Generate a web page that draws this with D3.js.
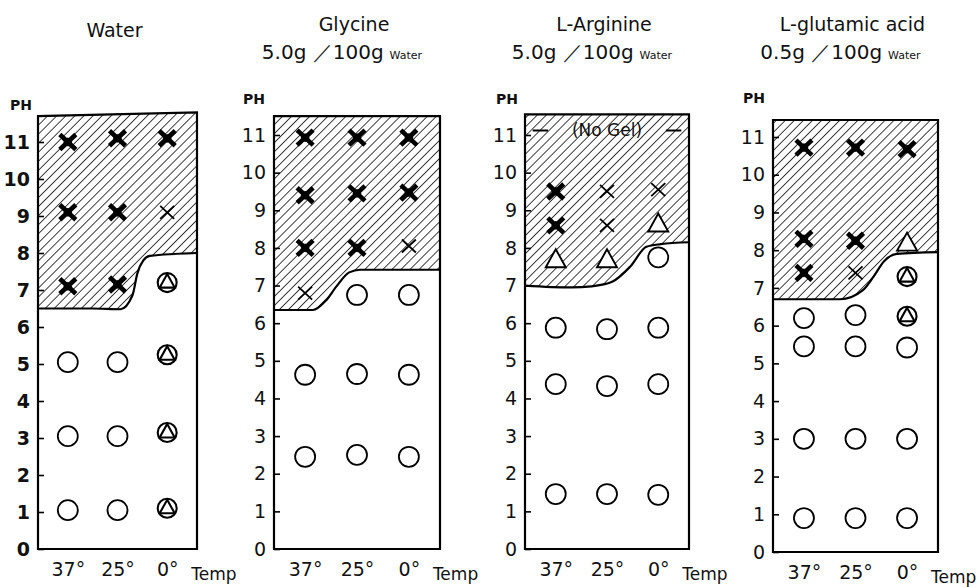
<!DOCTYPE html>
<html>
<head>
<meta charset="utf-8">
<script src="https://cdn.jsdelivr.net/npm/d3@7"></script>
<style>
  body { margin: 0; background: #fff; }
  text { font-family: "DejaVu Sans", sans-serif; fill: #111; }
</style>
</head>
<body>
<svg width="978" height="587"></svg>
<script>
// gel formation vs pH and temperature
var temps = ["37°", "25°", "0°"];
var phTicks = [0, 1, 2, 3, 4, 5, 6, 7, 8, 9, 10, 11];
var panelNames = ["Water", "Glycine", "L-Arginine", "L-glutamic acid"];
var concentrations = [null, "5.0g ／100g", "5.0g ／100g", "0.5g ／100g"];

// top of hatched box (pH at left edge, right edge)
var boxTop = [[11.7, 11.8], [11.5, 11.5], [11.55, 11.55], [11.45, 11.45]];

// lower edge of the gel zone: [column position, pH]
var waterEdge = [[-0.6, 6.5], [0.5, 6.5], [1.06, 6.48], [1.3, 6.85], [1.4, 7.45], [1.52, 7.8], [1.65, 7.92], [2.6, 8.0]];
var glycineEdge = [[-0.6, 6.35], [0.15, 6.35], [0.4, 6.6], [0.6, 6.97], [0.85, 7.35], [1.06, 7.42], [2.6, 7.42]];
var arginineEdge = [[-0.6, 7.0], [0.3, 6.95], [0.7, 6.98], [1.1, 7.1], [1.45, 7.5], [1.77, 8.03], [2.05, 8.1], [2.6, 8.15]];
var glutamicEdge = [[-0.6, 6.7], [0.7, 6.7], [1.15, 6.95], [1.35, 7.3], [1.55, 7.7], [1.8, 7.9], [2.6, 7.95]];

// points: [temp index, pH, kind]
var waterPts = [
  [0, 11.0, "strong"], [0, 9.1, "strong"], [0, 7.1, "strong"], [0, 5.05, "circle"], [0, 3.05, "circle"], [0, 1.05, "circle"],
  [1, 11.1, "strong"], [1, 9.1, "strong"], [1, 7.15, "strong"], [1, 5.05, "circle"], [1, 3.05, "circle"], [1, 1.05, "circle"],
  [2, 11.1, "strong"], [2, 9.1, "weak"], [2, 7.2, "both"], [2, 5.25, "both"], [2, 3.15, "both"], [2, 1.1, "both"]
];
var glycinePts = [
  [0, 10.93, "strong"], [0, 9.4, "strong"], [0, 8.0, "strong"], [0, 6.8, "weak"], [0, 4.63, "circle"], [0, 2.45, "circle"],
  [1, 10.93, "strong"], [1, 9.45, "strong"], [1, 8.0, "strong"], [1, 6.75, "circle"], [1, 4.65, "circle"], [1, 2.5, "circle"],
  [2, 10.93, "strong"], [2, 9.47, "strong"], [2, 8.05, "weak"], [2, 6.75, "circle"], [2, 4.63, "circle"], [2, 2.45, "circle"]
];
var argininePts = [
  [0, 9.5, "strong"], [0, 8.6, "strong"], [0, 7.7, "triangle"], [0, 5.88, "circle"], [0, 4.38, "circle"], [0, 1.46, "circle"],
  [1, 9.5, "weak"], [1, 8.6, "weak"], [1, 7.7, "triangle"], [1, 5.84, "circle"], [1, 4.33, "circle"], [1, 1.46, "circle"],
  [2, 9.55, "weak"], [2, 8.65, "triangle"], [2, 7.75, "circle"], [2, 5.88, "circle"], [2, 4.38, "circle"], [2, 1.44, "circle"]
];
var glutamicPts = [
  [0, 10.72, "strong"], [0, 8.3, "strong"], [0, 7.4, "strong"], [0, 6.2, "circle"], [0, 5.45, "circle"], [0, 3.0, "circle"], [0, 0.9, "circle"],
  [1, 10.72, "strong"], [1, 8.25, "strong"], [1, 7.4, "weak"], [1, 6.28, "circle"], [1, 5.45, "circle"], [1, 3.0, "circle"], [1, 0.9, "circle"],
  [2, 10.68, "strong"], [2, 8.2, "triangle"], [2, 7.3, "both"], [2, 6.25, "both"], [2, 5.42, "circle"], [2, 3.0, "circle"], [2, 0.9, "circle"]
];

var edges = [waterEdge, glycineEdge, arginineEdge, glutamicEdge];
var points = [waterPts, glycinePts, argininePts, glutamicPts];

// layout of the four boxes
var lefts = [38, 274, 525, 773];
var rights = [197, 440, 689, 938];
var bottoms = [549, 549, 549, 552];
var tops11 = [142, 135, 135, 137]; // y of pH 11
var phLabelX = [10, 243, 496, 743];
var phLabelY = [110, 104, 104, 103];

var svg = d3.select("svg");

var defs = svg.append("defs");
defs.append("pattern")
  .attr("id", "hatch")
  .attr("patternUnits", "userSpaceOnUse")
  .attr("width", 6.4).attr("height", 6.4)
  .attr("patternTransform", "rotate(45)")
  .append("line")
  .attr("x1", 0).attr("y1", -1).attr("x2", 0).attr("y2", 7.4)
  .attr("stroke", "#000").attr("stroke-width", 1.5);

function drawMark(g, x, y, kind) {
  var m = g.append("g").attr("transform", "translate(" + x + "," + y + ")");
  if (kind == "strong") {
    m.append("path").attr("d", "M-8,-7.5L8,7.5M-8,7.5L8,-7.5")
      .attr("stroke", "#000").attr("stroke-width", 4.6).attr("fill", "none");
    m.append("path").attr("d", "M-4,-1L4,1M-1,4L1,-4")
      .attr("stroke", "#000").attr("stroke-width", 3.4).attr("fill", "none");
  } else if (kind == "weak") {
    m.append("path").attr("d", "M-7,-6.5L7,6.5M-7,6.5L7,-6.5")
      .attr("stroke", "#000").attr("stroke-width", 1.8).attr("fill", "none");
  } else if (kind == "circle") {
    m.append("circle").attr("r", 10)
      .attr("fill", "#fff").attr("stroke", "#000").attr("stroke-width", 1.8);
  } else if (kind == "triangle") {
    m.append("path").attr("d", "M0,-10L10,8L-10,8Z")
      .attr("fill", "#fff").attr("stroke", "#000").attr("stroke-width", 1.9);
  } else if (kind == "both") {
    m.append("circle").attr("r", 9.5)
      .attr("fill", "#fff").attr("stroke", "#000").attr("stroke-width", 2.1);
    m.append("path").attr("d", "M0,-8.5L7.5,5L-7.5,5Z")
      .attr("fill", "none").attr("stroke", "#000").attr("stroke-width", 2.1);
  }
}

panelNames.forEach(function(name, i) {
  var x = d3.scaleLinear().domain([-0.6, 2.6]).range([lefts[i], rights[i]]);
  var y = d3.scaleLinear().domain([0, 11]).range([bottoms[i], tops11[i]]);
  var g = svg.append("g");
  var top = boxTop[i];
  var topAt = d3.scaleLinear().domain([-0.6, 2.6]).range(top);

  // hatched gel zone
  var area = d3.area()
    .curve(d3.curveMonotoneX)
    .x(function(d) { return x(d[0]); })
    .y0(function(d) { return y(d[1]); })
    .y1(function(d) { return y(topAt(d[0])); });
  g.append("path")
    .datum(edges[i])
    .attr("fill", "url(#hatch)")
    .attr("d", area);

  var line = d3.line()
    .curve(d3.curveMonotoneX)
    .x(function(d) { return x(d[0]); })
    .y(function(d) { return y(d[1]); });
  g.append("path")
    .datum(edges[i])
    .attr("fill", "none").attr("stroke", "#000").attr("stroke-width", 2.2)
    .attr("d", line);

  // box
  g.append("path")
    .datum([[-0.6, 0], [-0.6, top[0]], [2.6, top[1]], [2.6, 0]])
    .attr("fill", "none").attr("stroke", "#000").attr("stroke-width", 2.2)
    .attr("d", d3.line().x(function(d) { return x(d[0]); }).y(function(d) { return y(d[1]); }).curve(d3.curveLinearClosed));

  // pH axis
  var ax = g.append("g")
    .attr("transform", "translate(" + lefts[i] + ",0)")
    .call(d3.axisLeft(y).tickValues(phTicks).tickFormat(d3.format("d")).tickSizeInner(-6).tickSizeOuter(0).tickPadding(8));
  ax.select(".domain").remove();
  ax.selectAll("line").attr("stroke", "#000").attr("stroke-width", 1.6);
  ax.selectAll("text")
    .attr("font-size", 19)
    .attr("font-weight", i == 0 ? "bold" : "normal")
    .attr("fill", "#111")
    .attr("font-family", "DejaVu Sans");

  g.append("text")
    .attr("x", phLabelX[i]).attr("y", phLabelY[i])
    .attr("font-size", 14).attr("font-weight", "bold")
    .text("PH");

  // temperature axis
  var bx = g.append("g")
    .attr("transform", "translate(0," + bottoms[i] + ")")
    .call(d3.axisBottom(x).tickValues([0, 1, 2]).tickFormat(function(d) { return temps[d]; }).tickSize(0).tickPadding(14));
  bx.select(".domain").remove();
  bx.selectAll("text")
    .attr("font-size", 19)
    .attr("fill", "#111")
    .attr("font-family", "DejaVu Sans");
  g.append("text")
    .attr("x", x(2) + 24).attr("y", bottoms[i] + 31)
    .attr("font-size", 17)
    .text("Temp");

  // markers
  points[i].forEach(function(p) {
    drawMark(g, x(p[0]), y(p[1]), p[2]);
  });

  if (name == "L-Arginine") {
    var ny = y(11.12);
    g.append("text")
      .attr("x", x(1)).attr("y", ny + 6)
      .attr("text-anchor", "middle")
      .attr("font-size", 17)
      .text("(No Gel)");
    g.append("path")
      .attr("d", "M" + x(-0.45) + "," + ny + "H" + x(-0.15) + "M" + x(2.15) + "," + ny + "H" + x(2.45))
      .attr("stroke", "#000").attr("stroke-width", 1.8);
  }

  // title
  var cx = (lefts[i] + rights[i]) / 2;
  if (concentrations[i] == null) {
    g.append("text")
      .attr("x", cx - 3).attr("y", 37)
      .attr("text-anchor", "middle")
      .attr("font-size", 19)
      .text(name);
  } else {
    g.append("text")
      .attr("x", cx - 3).attr("y", 31)
      .attr("text-anchor", "middle")
      .attr("font-size", 19)
      .text(name);
    var t = g.append("text")
      .attr("x", cx - 15).attr("y", 59)
      .attr("text-anchor", "middle")
      .attr("font-size", 20)
      .attr("xml:space", "preserve");
    t.append("tspan").text(concentrations[i]);
    t.append("tspan").attr("font-size", 11).attr("dx", 6).text("Water");
  }
});
</script>
</body>
</html>
